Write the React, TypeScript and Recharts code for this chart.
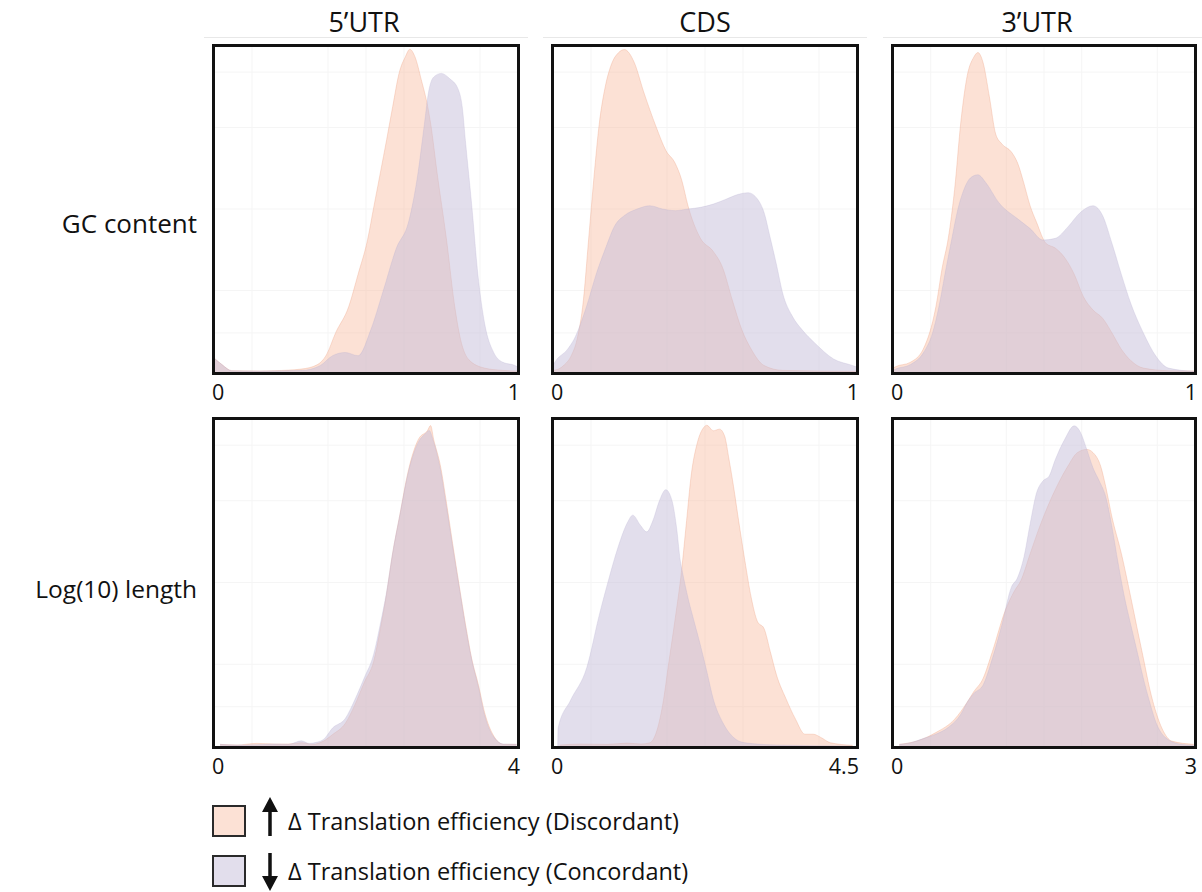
import React from 'react';
import { AreaChart, Area, XAxis, YAxis, CartesianGrid } from 'recharts';

const FONT = '"Open Sans", "Noto Sans", "DejaVu Sans", sans-serif';

// ---- labels ----
const columnTitles = ['5’UTR', 'CDS', '3’UTR'];
const rowLabels = ['GC content', 'Log(10) length'];
const legendLabels = ['Δ Translation efficiency (Discordant)', 'Δ Translation efficiency (Concordant)'];
const gcDomainMax = [1, 1, 1];
const lengthDomainMax = [4, 4.5, 3];
const gcTickLabels = ['0', '1'];
const lengthTickLabels = [['0', '4'], ['0', '4.5'], ['0', '3']];

// ---- densities (x, scaled density 0-100) ; disc = Discordant (up), conc = Concordant (down) ----
const gc5Disc = [[0,4.3],[0.027,2.2],[0.058,0.4],[0.15,0.3],[0.2,0.4],[0.287,0.9],[0.339,2.2],[0.37,5.3],[0.4,12],[0.443,20],[0.474,30],[0.505,40.5],[0.526,50.8],[0.547,61],[0.568,71.3],[0.588,81.5],[0.609,91.7],[0.63,96.8],[0.644,99],[0.661,96.7],[0.682,89.6],[0.703,81.4],[0.713,76],[0.734,61],[0.765,40.5],[0.792,20],[0.811,10],[0.838,3.8],[0.89,1.2],[0.95,0.5],[1,0.3]];
const gc5Conc = [[0,4.3],[0.027,2.2],[0.058,0.4],[0.15,0.3],[0.29,0.5],[0.35,2],[0.39,5],[0.432,6],[0.474,5],[0.516,13],[0.557,25],[0.6,38],[0.64,46],[0.671,61],[0.692,76],[0.707,86.5],[0.723,90.5],[0.748,91.6],[0.775,90],[0.802,87],[0.817,81],[0.827,71],[0.848,51],[0.868,30],[0.89,15],[0.92,6],[0.95,3],[0.99,2],[1,1.5]];

const gcCdsDisc = [[0,0.5],[0.02,1],[0.0375,2.2],[0.06,5],[0.079,10],[0.1,22],[0.117,40.5],[0.135,60],[0.152,76],[0.173,88],[0.194,94.8],[0.215,97.9],[0.235,98.9],[0.267,95],[0.298,86],[0.34,75],[0.371,68],[0.402,64],[0.423,59],[0.444,51],[0.485,41],[0.527,37],[0.558,32],[0.59,22],[0.621,13],[0.652,7],[0.694,2],[0.756,0.5],[1,0.2]];
const gcCdsConc = [[0,2],[0.006,3],[0.048,7],[0.069,10],[0.11,20],[0.142,30],[0.173,38],[0.204,45],[0.235,48],[0.277,50],[0.319,51],[0.36,50],[0.402,49.5],[0.444,50],[0.485,50.5],[0.527,51.5],[0.569,53],[0.61,54.5],[0.642,55],[0.673,53],[0.694,49],[0.715,41],[0.735,33],[0.756,24],[0.788,17],[0.819,13],[0.86,9],[0.923,4],[0.985,2],[1,1.5]];

const gc3Disc = [[0,1],[0.006,1.5],[0.058,3],[0.1,7],[0.142,20],[0.163,32],[0.183,41],[0.204,56],[0.225,77],[0.246,91],[0.267,96.5],[0.281,98],[0.298,95],[0.319,84.5],[0.34,73],[0.36,70],[0.392,67.5],[0.413,64],[0.433,58],[0.454,51],[0.475,46],[0.506,39.5],[0.5375,38],[0.569,35],[0.6,30],[0.631,23],[0.6625,19],[0.694,16.5],[0.725,12],[0.756,7],[0.7875,3.5],[0.829,1.2],[0.9125,0.4],[1,0.3]];
const gc3Conc = [[0,0.5],[0.006,0.8],[0.058,2.3],[0.1,5.8],[0.131,12],[0.152,20],[0.173,30.5],[0.194,40.5],[0.215,50],[0.235,56],[0.256,59.5],[0.281,60.5],[0.308,58],[0.35,52],[0.4125,47],[0.454,44],[0.496,40.5],[0.5375,41],[0.579,44.5],[0.621,49],[0.6625,51],[0.694,48],[0.725,39.5],[0.756,30],[0.7875,21],[0.829,12],[0.871,4.8],[0.9125,1.2],[0.996,0.2]];

const len5Disc = [[0.08,0.5],[0.3,0.3],[0.565,0.8],[0.8,0.6],[0.98,0.6],[1.15,1],[1.3,0.5],[1.44,1.5],[1.56,3.5],[1.73,7],[1.85,12.4],[1.98,19.6],[2.1,25.8],[2.19,36],[2.27,46.4],[2.35,58.8],[2.44,70],[2.56,84.5],[2.69,93.8],[2.81,96.5],[2.85,98],[2.89,93.8],[2.98,85.6],[3.06,74.2],[3.14,61.9],[3.23,48.5],[3.31,37.1],[3.39,26.8],[3.48,18.6],[3.56,10.3],[3.68,3.1],[3.81,0.5],[3.98,0.5]];
const len5Conc = [[0.08,0.5],[0.3,0.3],[0.565,0.4],[0.8,0.6],[0.98,0.5],[1.15,1.6],[1.25,0.8],[1.36,1.2],[1.44,2],[1.56,5.5],[1.73,8.5],[1.85,14],[1.98,21],[2.1,28],[2.19,37.5],[2.27,47],[2.35,59],[2.44,70],[2.56,84],[2.69,93],[2.78,95.5],[2.83,96.5],[2.89,93],[2.98,84.5],[3.06,73],[3.14,61],[3.23,48],[3.31,36.5],[3.39,26.5],[3.48,18],[3.56,9.5],[3.68,2.8],[3.81,0.6],[3.98,0.5]];

const lenCdsDisc = [[0.1,0.3],[0.4,0.6],[0.8,0.5],[1.1,0.9],[1.3,0.6],[1.434,1],[1.528,4.1],[1.622,12.4],[1.716,25.8],[1.809,39],[1.903,53.6],[1.978,69],[2.044,82.5],[2.1375,92.8],[2.231,97.4],[2.278,98.1],[2.372,96.4],[2.466,96.9],[2.54,94.8],[2.606,87.6],[2.672,79.4],[2.747,69],[2.84,56.7],[2.934,45.4],[3.028,38],[3.122,36],[3.216,28.9],[3.31,21.6],[3.45,14.4],[3.59,8.2],[3.73,3.6],[3.853,3.6],[3.966,2.6],[4.106,1],[4.434,0.2]];
const lenCdsConc = [[0.07,0],[0.075,5.5],[0.26,14],[0.5,24],[0.684,40],[0.825,51],[0.966,61],[1.106,68.5],[1.18,70.6],[1.294,67.5],[1.3875,65.5],[1.48,69],[1.575,75],[1.669,78.4],[1.762,75],[1.828,67],[1.884,56.7],[1.922,52.6],[1.997,45.4],[2.09,38],[2.18,31],[2.278,22.7],[2.372,14.4],[2.5125,7.2],[2.653,3],[2.84,1],[3.31,0.3],[4.4,0]];

const len3Disc = [[0.0625,0.5],[0.2375,1.5],[0.425,4.1],[0.6125,8.2],[0.7375,13.4],[0.8,16.5],[0.894,20.6],[0.9875,28.9],[1.1125,41.2],[1.206,47.4],[1.269,50.5],[1.3625,58.8],[1.456,67],[1.55,74.2],[1.644,80.4],[1.7375,85.6],[1.831,89.7],[1.925,90.7],[1.9875,89.7],[2.0625,85.6],[2.1125,79.4],[2.175,70],[2.269,58.8],[2.3625,45.4],[2.425,36],[2.4875,26.8],[2.55,17.5],[2.6125,10.3],[2.675,5.2],[2.769,1.5],[2.9875,0.5]];
const len3Conc = [[0.0625,0.5],[0.175,1],[0.3,2.3],[0.425,3.6],[0.55,5.7],[0.675,9.8],[0.7375,13.4],[0.8,16],[0.894,18.6],[0.9875,26.8],[1.081,37],[1.175,48.5],[1.2375,51.5],[1.3,57.7],[1.3625,68],[1.425,77.3],[1.4875,81],[1.55,82.5],[1.6125,87.6],[1.706,93.8],[1.8,97.9],[1.8625,95.9],[1.925,90.7],[1.9875,85],[2.05,81],[2.1125,76.3],[2.175,67],[2.2375,55.7],[2.3,45.4],[2.3625,37],[2.425,28.9],[2.4875,20.6],[2.55,13.4],[2.6125,7.2],[2.706,2.6],[2.8625,0.5],[2.9875,0.2]];

const DISC_FILL = '#f8b89a';
const CONC_FILL = '#c5bdda';

function mergeSeries(d: number[][], c: number[][]) {
  const map = new Map<number, any>();
  d.forEach(([x, y]) => { const r = map.get(x) ?? { x }; r.d = y; map.set(x, r); });
  c.forEach(([x, y]) => { const r = map.get(x) ?? { x }; r.c = y; map.set(x, r); });
  return Array.from(map.values()).sort((a, b) => a.x - b.x);
}

const EdgeTick = (props: any) => {
  const { x, y, payload, labels, xMax } = props;
  const isFirst = payload.value === 0;
  const label = isFirst ? labels[0] : labels[1];
  if (payload.value !== 0 && payload.value !== xMax) return null;
  return (
    <text x={isFirst ? x - 2 : x + 2} y={y + 28} textAnchor={isFirst ? 'start' : 'end'}
      fontFamily={FONT} fontSize={21.5} fill="#111">{label}</text>
  );
};

function Panel({ left, top, width, height, disc, conc, xMax, labels }: any) {
  const data = mergeSeries(disc, conc);
  const padX = 20, padTop = 10, extraBottom = 50, axisH = 40;
  const cw = width + 2 * padX;
  const ch = height + padTop + extraBottom;
  const plotTop = padTop + 2;
  const plotBottom = padTop + height - 3;
  const marginBottom = ch - plotBottom - axisH;
  const gridX = [0.125, 0.375, 0.5, 0.625, 0.875].map(v => v * xMax);
  return (
    <>
      <div style={{ position: 'absolute', left: left - padX, top: top - padTop }}>
        <AreaChart width={cw} height={ch} data={data}
          margin={{ top: plotTop, left: padX + 2, right: padX + 2, bottom: marginBottom }}>
          <CartesianGrid stroke="#f5f5f5" verticalValues={gridX} horizontalValues={[12, 25, 50, 75, 92]} />
          <XAxis type="number" dataKey="x" domain={[0, xMax]} ticks={[0, xMax]} allowDataOverflow
            tickLine={false} axisLine={false} tickSize={0} tickMargin={0} height={axisH} interval={0}
            tick={<EdgeTick labels={labels} xMax={xMax} />} />
          <YAxis type="number" domain={[0, 100]} hide allowDataOverflow />
          <Area dataKey="d" type="monotone" fill={DISC_FILL} fillOpacity={0.42}
            stroke="#ec9f80" strokeWidth={0.6} strokeOpacity={0.55} connectNulls
            dot={false} activeDot={false} isAnimationActive={false} />
          <Area dataKey="c" type="monotone" fill={CONC_FILL} fillOpacity={0.5}
            stroke="#b3aad0" strokeWidth={0.5} strokeOpacity={0.5} connectNulls
            dot={false} activeDot={false} isAnimationActive={false} />
        </AreaChart>
      </div>
      <div style={{ position: 'absolute', left, top, width, height, border: '3px solid #111',
        boxSizing: 'border-box', pointerEvents: 'none' }} />
    </>
  );
}

const colLefts = [212, 551, 891];
const colWidths = [308, 308, 306];
const rowTops = [44, 417];
const rowHeights = [331, 332];
const titleCenters = [364, 705, 1037];

const gcSeries = [[gc5Disc, gc5Conc], [gcCdsDisc, gcCdsConc], [gc3Disc, gc3Conc]];
const lenSeries = [[len5Disc, len5Conc], [lenCdsDisc, lenCdsConc], [len3Disc, len3Conc]];

export default function App() {
  return (
    <div style={{ position: 'absolute', left: 0, top: 0, width: 1202, height: 892, background: '#fff', overflow: 'hidden' }}>
      <svg width={1202} height={892} style={{ position: 'absolute', left: 0, top: 0 }}>
        {colLefts.map((l, i) => (
          <line key={'s' + i} x1={l - 8} x2={l + colWidths[i] + 8} y1={37.5} y2={37.5} stroke="#e8e8e8" strokeWidth={1} />
        ))}
        {columnTitles.map((t, i) => (
          <text key={t} x={titleCenters[i]} y={32} textAnchor="middle" fontFamily={FONT} fontSize={27} fill="#111">{t}</text>
        ))}
        <text x={197} y={233} textAnchor="end" fontFamily={FONT} fontSize={26} fill="#111">{rowLabels[0]}</text>
        <text x={197} y={598} textAnchor="end" fontFamily={FONT} fontSize={24.5} fill="#111">{rowLabels[1]}</text>
        <rect x={213} y={806} width={32} height={30} fill="#fce1d5" stroke="#2a2a2a" strokeWidth={2} />
        <rect x={213} y={856} width={32} height={30} fill="#e2deec" stroke="#2a2a2a" strokeWidth={2} />
        <line x1={270} x2={270} y1={836} y2={808} stroke="#111" strokeWidth={3.5} />
        <polygon points="262,812 270,797 278,812" fill="#111" />
        <line x1={270} x2={270} y1={853} y2={880} stroke="#111" strokeWidth={3.5} />
        <polygon points="262,876 270,891 278,876" fill="#111" />
        <text x={288} y={830} fontFamily={FONT} fontSize={23.5} fill="#111">{legendLabels[0]}</text>
        <text x={288} y={880} fontFamily={FONT} fontSize={23.5} fill="#111">{legendLabels[1]}</text>
      </svg>
      {gcSeries.map((s, i) => (
        <Panel key={'gc' + i} left={colLefts[i]} top={rowTops[0]} width={colWidths[i]} height={rowHeights[0]}
          disc={s[0]} conc={s[1]} xMax={gcDomainMax[i]} labels={gcTickLabels} />
      ))}
      {lenSeries.map((s, i) => (
        <Panel key={'len' + i} left={colLefts[i]} top={rowTops[1]} width={colWidths[i]} height={rowHeights[1]}
          disc={s[0]} conc={s[1]} xMax={lengthDomainMax[i]} labels={lengthTickLabels[i]} />
      ))}
    </div>
  );
}
